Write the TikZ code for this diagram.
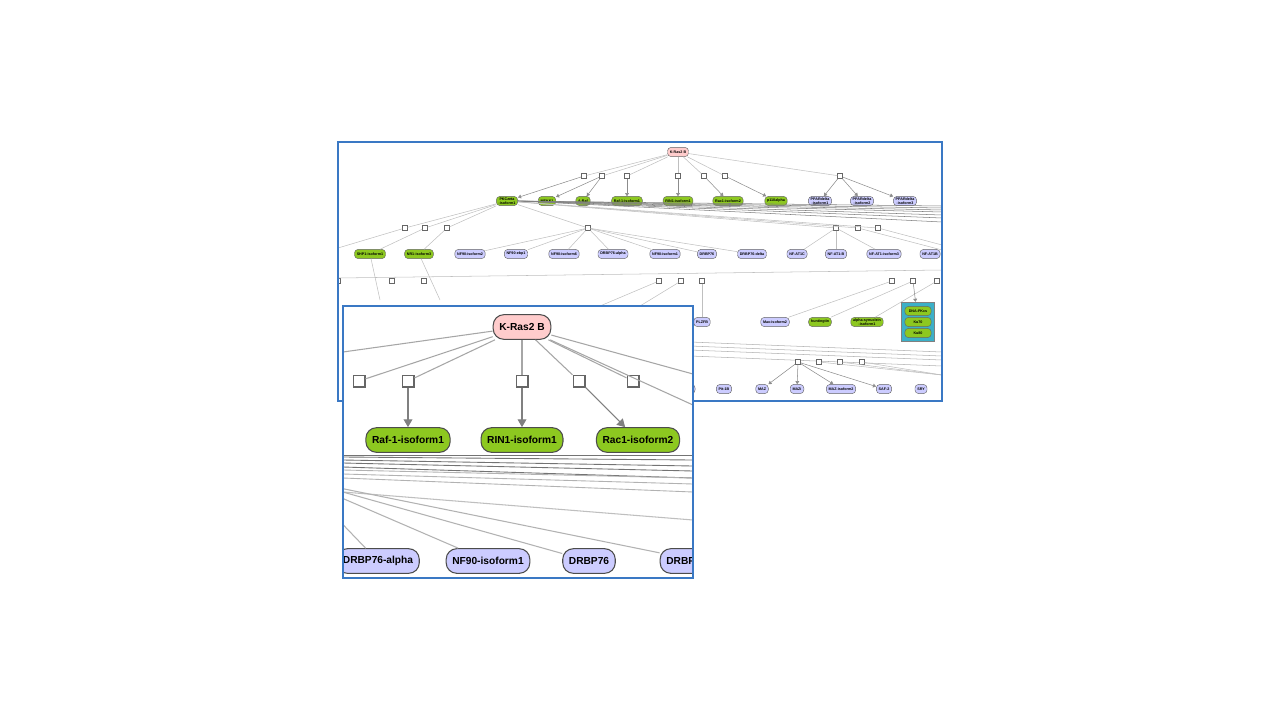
\documentclass[tikz,border=0pt]{standalone}
\usepackage{fontspec}
\setmainfont{Liberation Sans}
\usetikzlibrary{arrows.meta,shapes.misc}
\definecolor{protgreen}{HTML}{8DC820}
\definecolor{protblue}{HTML}{CCCCFF}
\definecolor{protpink}{HTML}{FFCCCC}
\definecolor{framecol}{HTML}{3A78C4}
\definecolor{cplxcol}{HTML}{3BB0C8}

\begin{document}
\begin{tikzpicture}[x=0.02cm,y=-0.02cm,
    prot/.style={rectangle, rounded corners=2pt, draw=black!60, line width=0.25pt, inner xsep=1.3pt, inner ysep=0.6pt, minimum height=5.2pt, font=\fontsize{2.1}{2.4}\selectfont\bfseries, align=center},
    green/.style={prot, fill=protgreen},
    blue/.style={prot, fill=protblue},
    sq/.style={draw=black!60, fill=white, line width=0.2pt, minimum size=2.8pt, inner sep=0pt},
    ln/.style={black!25, line width=0.3pt},
    arr/.style={ln, -{Triangle[length=1.8pt,width=2.2pt]}, black!45},
    bigprot/.style={rectangle, rounded corners=6pt, draw=black!70, line width=0.6pt, minimum height=14pt, inner xsep=3.5pt, font=\fontsize{5.8}{6.8}\selectfont\bfseries},
    bigsq/.style={draw=black!60, fill=white, line width=0.6pt, minimum size=6.8pt, inner sep=0pt},
    bigln/.style={black!35, line width=0.6pt}
]
\useasboundingbox (0,0) rectangle (1280,720);

% main panel
\begin{scope}
\clip (338,142) rectangle (942,401);
\node[prot, fill=protpink] (kras) at (678,152) {K-Ras2 B};
% first level
\node[green] (pkc) at (507,201) {PKCzeta\\-isoform1};
\foreach \nm/\lab/\x in {mekk/MEKK1/547, araf/A-Raf/583, raf/Raf-1-isoform1/627, rin/RIN1-isoform1/678, rac/Rac1-isoform2/728, pi3k/p110alpha/776}
  \node[green] (\nm) at (\x,201) {\lab};
\foreach \nm/\i/\x in {ppa/1/820, ppb/2/862, ppc/3/905}
  \node[blue] (\nm) at (\x,201) {PPARdelta\\-isoform\i};
\foreach \nm/\x/\t in {sa/584/pkc, sb/602/mekk, sc/627/raf, sd/678/rin, se/704/rac, sf/725/pi3k, sg/840/ppb} {
  \node[sq] (\nm) at (\x,176) {};
  \draw[ln] (kras) -- (\nm);
  \draw[arr] (\nm) -- (\t);
}
\draw[arr] (sb) -- (araf);
\draw[arr] (sg) -- (ppa);
\draw[arr] (sg) -- (ppc);
% bundle to the right
\foreach \dy in {0,2,4,6,9,12,16}
  \draw[black!50, line width=0.3pt] (pkc.east) -- (942,206+\dy);
% second level
\foreach \nm/\lab/\x in {shp/SHP1-isoform1/370, nr/NR1-isoform3/419}
  \node[green] (\nm) at (\x,254) {\lab};
\foreach \nm/\lab/\x in {nfa/NF90-isoform2/470, nfb/NF90-ebp1/516, nfc/NF90-isoform6/564, drba/DRBP76-alpha/613, nfd/NF90-isoform1/665, drb/DRBP76/707, drbd/DRBP76-delta/752, ata/NF-AT1C/797, atb/NF-AT1-B/836, atc/NF-AT1-isoform3/884, atd/NF-AT1B/930}
  \node[blue] (\nm) at (\x,254) {\lab};
\foreach \nm/\x in {ta/405, tb/425, tc/447, td/588, te/836, tf/858, tg/878} {
  \node[sq] (\nm) at (\x,228) {};
  \draw[ln] (pkc) -- (\nm);
}
\draw[ln] (ta) -- (338,248);
\draw[ln] (tb) -- (shp);
\draw[ln] (tc) -- (nr);
\foreach \t in {nfa,nfb,nfc,drba,nfd,drb,drbd}
  \draw[ln] (td) -- (\t);
\foreach \t in {ata,atb,atc}
  \draw[ln] (te) -- (\t);
\draw[ln] (tf) -- (942,250);
\draw[ln] (tg) -- (942,245);
% third level
\foreach \nm/\x in {ua/338, ub/392, uc/424, ud/659, ue/681, uf/702, ug/892, uh/913, ui/937} {
  \node[sq] (\nm) at (\x,281) {};
}
\draw[ln] (338,278) -- (942,270);
\draw[ln] (shp) -- (380,300);
\draw[ln] (nr) -- (440,300);
\node[blue] (plz) at (702,322) {PLZFB};
\node[blue] (max) at (775,322) {Max-isoform2};
\node[green] (hunt) at (820,322) {huntingtin};
\node[green] (syn) at (867,322) {alpha-synuclein\\-isoform1};
\draw[ln] (uf) -- (plz);
\draw[ln] (ug) -- (max);
\draw[ln] (uh) -- (hunt);
\draw[ln] (ui) -- (syn);
\draw[ln] (ud) -- (600,306);
\draw[ln] (ue) -- (640,306);
\node[draw=black!50, fill=cplxcol, chamfered rectangle, chamfered rectangle corners={north west,north east,south west,south east}, chamfered rectangle xsep=2pt, minimum width=19pt, minimum height=22.5pt, inner sep=0pt] (cplx) at (918,322) {};
\node[green, minimum width=15pt] (dna) at (918,311) {DNA-PKcs};
\node[green, minimum width=15pt] (ku70) at (918,322) {Ku70};
\node[green, minimum width=15pt] (ku80) at (918,333) {Ku80};
\draw[arr] (uh) -- (cplx);
\foreach \dy in {0,4,8,14}
  \draw[black!30, line width=0.3pt] (690,342+\dy) -- (942,352+\dy);
% fourth level
\foreach \nm/\lab/\x in {pit/Pit-1B/724, maz/MAZ/762, mazi/MAZi/797, mazb/MAZ-isoform2/841, saf/SAF-2/884, sry/SRY/921}
  \node[blue] (\nm) at (\x,389) {\lab};
\node[blue, minimum width=8pt] (zz) at (688,389) {};
\foreach \nm/\x in {va/798, vb/819, vc/840, vd/862}
  \node[sq] (\nm) at (\x,362) {};
\draw[arr] (va) -- (maz);
\draw[arr] (va) -- (mazi);
\draw[arr] (va) -- (mazb);
\draw[arr] (va) -- (saf);
\foreach \s in {vb,vc,vd}
  \draw[ln] (\s) -- (942,375);
\end{scope}
\draw[framecol, line width=0.6pt] (338,142) rectangle (942,401);

% zoomed inset
\fill[white] (343,306) rectangle (693,578);
\begin{scope}
\clip (343,306) rectangle (693,578);
\node[bigprot, fill=protpink] (zkras) at (522,327) {K-Ras2 B};
\foreach \nm/\x in {za/359, zb/408, zc/522, zd/579, ze/633} {
  \node[bigsq] (\nm) at (\x,381) {};
  \draw[bigln] (zkras) -- (\nm);
}
\draw[bigln] (zkras) -- (343,352);
\draw[bigln] (zkras) -- (693,374);
\draw[bigln] (zkras) -- (693,405);
\node[bigprot, fill=protgreen] (zraf) at (408,440) {Raf-1-isoform1};
\node[bigprot, fill=protgreen] (zrin) at (522,440) {RIN1-isoform1};
\node[bigprot, fill=protgreen] (zrac) at (638,440) {Rac1-isoform2};
\foreach \s/\t in {zb/zraf, zc/zrin, zd/zrac}
  \draw[bigln, black!50, -{Triangle[length=4.5pt,width=5pt]}] (\s) -- (\t);
\foreach \a/\b in {455/455, 457/460, 460/466, 463/471, 467/478}
  \draw[black!55, line width=0.5pt] (343,\a) -- (693,\b);
\foreach \a/\b in {470/478, 474/484, 478/492}
  \draw[black!30, line width=0.5pt] (343,\a) -- (693,\b);
\draw[bigln, black!25] (343,492) -- (693,520);
\node[bigprot, fill=protblue] (zdrba) at (378,561) {DRBP76-alpha};
\node[bigprot, fill=protblue] (znfd) at (488,561) {NF90-isoform1};
\node[bigprot, fill=protblue] (zdrb) at (589,561) {DRBP76};
\node[bigprot, fill=protblue] (zdrbd) at (700,561) {DRBP76-delta};
\coordinate (zhub) at (300,480);
\foreach \t in {zdrba, znfd, zdrb, zdrbd}
  \draw[bigln, black!30] (zhub) -- (\t);
\end{scope}
\draw[framecol, line width=0.6pt] (343,306) rectangle (693,578);
\end{tikzpicture}
\end{document}
